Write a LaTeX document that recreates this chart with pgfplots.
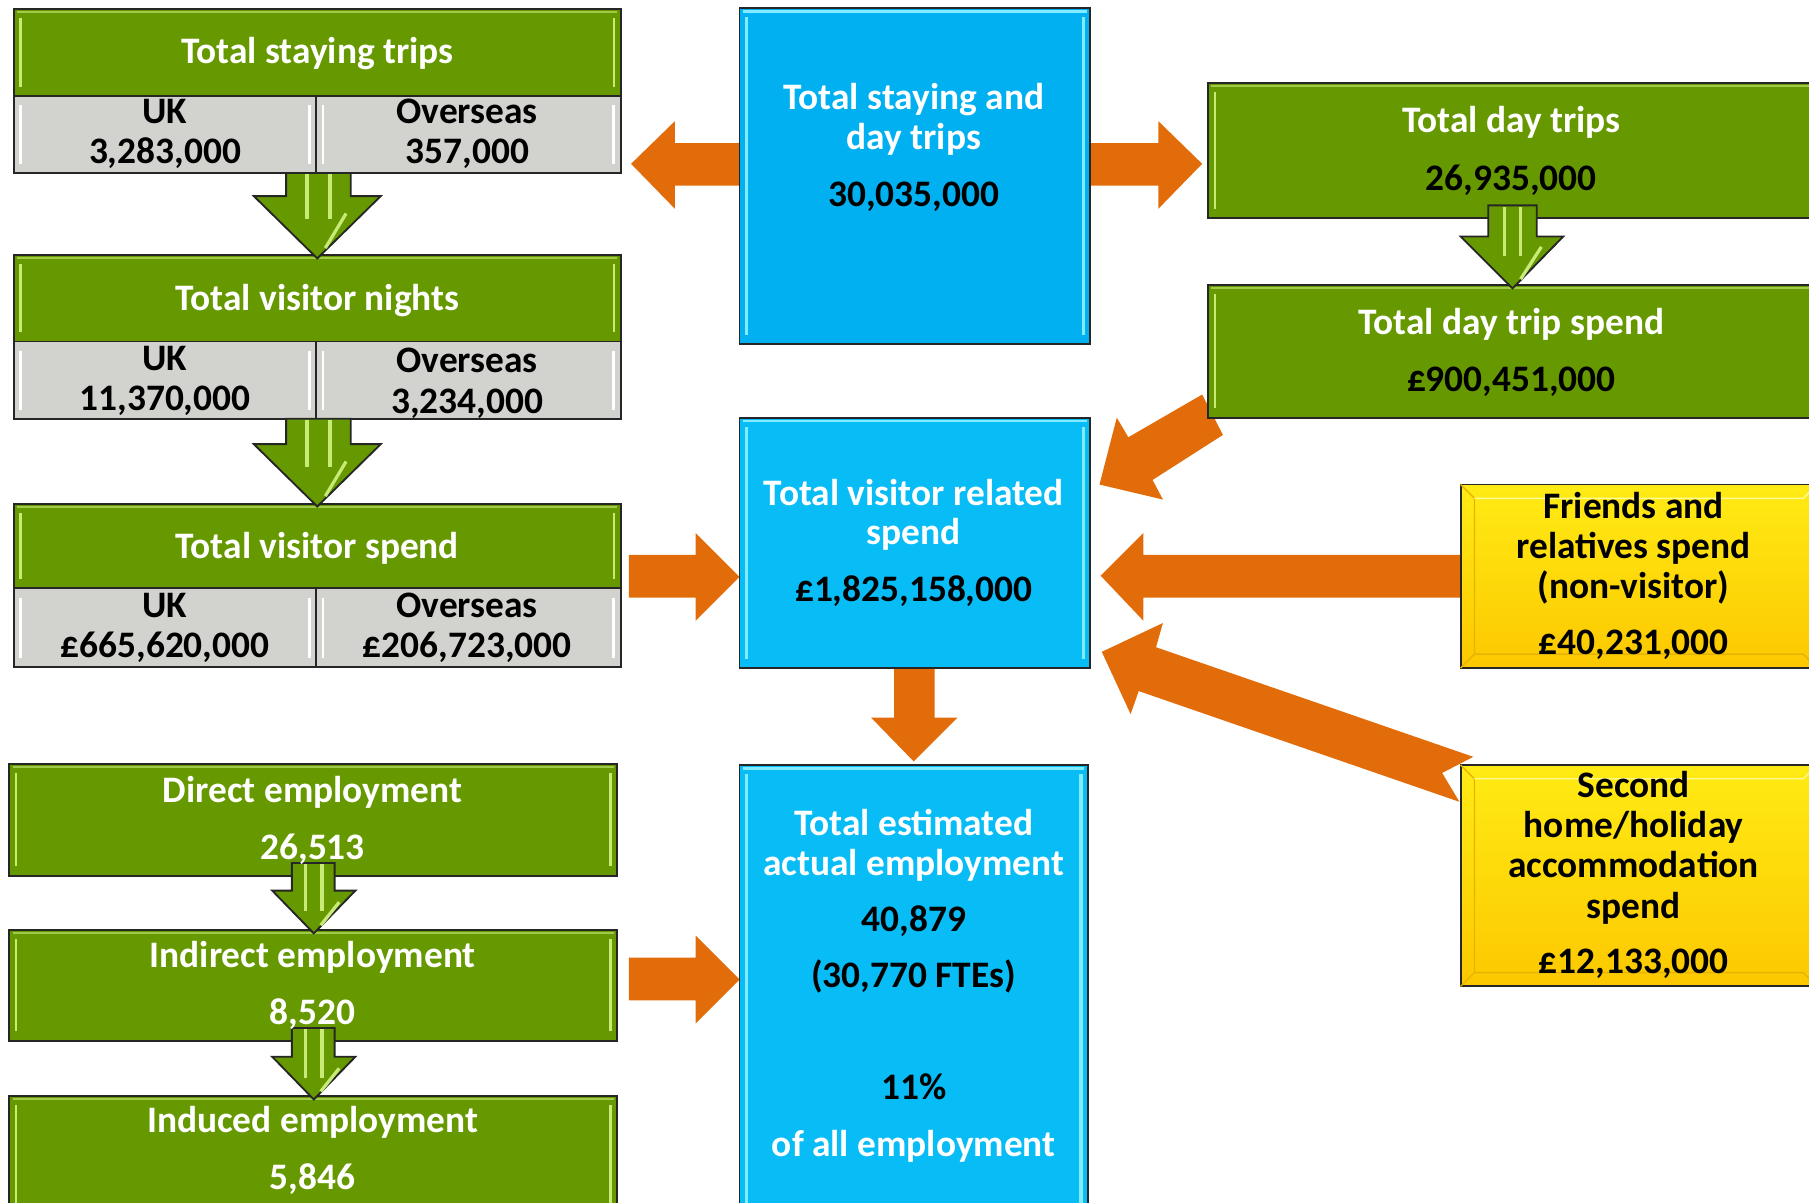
\documentclass[border=0pt]{standalone}
\usepackage{pgfplots}
\pgfplotsset{compat=1.18}
\usepackage{fontspec}
\setmainfont{Carlito}
\definecolor{gM}{RGB}{102,153,0}
\definecolor{gHL}{RGB}{200,235,120}
\definecolor{grayM}{RGB}{210,210,206}
\definecolor{b1}{RGB}{0,176,240}
\definecolor{b2}{RGB}{8,188,246}
\definecolor{bHL}{RGB}{130,235,255}
\definecolor{yT}{RGB}{255,235,20}
\definecolor{yB}{RGB}{252,200,0}
\definecolor{yD}{RGB}{230,180,0}
\definecolor{yL}{RGB}{255,250,150}
\definecolor{orng}{RGB}{227,108,10}
\newcommand{\fsz}{\fontsize{16.2}{18}\selectfont\bfseries}
% text line: x, baseline y, colour, text
\newcommand{\tl}[4]{\node[anchor=base,text=#3,font=\fsz,inner sep=0pt] at (axis cs:#1,#2) {#4};}
% vertical line: x, y1, y2, colour, width
\newcommand{\vl}[5]{\draw[#4,line width=#5] (axis cs:#1,#2) -- (axis cs:#1,#3);}
% horizontal line: y, x1, x2, colour, width
\newcommand{\hl}[5]{\draw[#4,line width=#5] (axis cs:#2,#1) -- (axis cs:#3,#1);}
\begin{document}
\begin{tikzpicture}
\begin{axis}[
  scale only axis, width=784pt, height=521pt,
  xmin=0, xmax=1568, ymin=0, ymax=1042, y dir=reverse,
  hide axis, no markers, clip=true]

% ---------- orange arrows (behind boxes)
\addplot[fill=orng,draw=none] coordinates {(641,124)(585,124)(585,105)(547,142)(585,181)(585,161)(641,161)} -- cycle;
\addplot[fill=orng,draw=none] coordinates {(945,124)(1004,124)(1004,105)(1042,142)(1004,181)(1004,161)(945,161)} -- cycle;
\addplot[fill=orng,draw=none] coordinates {(545,481)(603,481)(603,462)(641,500)(603,538)(603,518)(545,518)} -- cycle;
\addplot[fill=orng,draw=none] coordinates {(545,830)(603,830)(603,811)(641,849)(603,887)(603,867)(545,867)} -- cycle;
\addplot[fill=orng,draw=none] coordinates {(775,577)(810,577)(810,622)(830,622)(792,660)(755,622)(775,622)} -- cycle;
\addplot[fill=orng,draw=none] coordinates {(1268,481)(991,481)(991,462)(954,499)(991,538)(991,518)(1268,518)} -- cycle;
\addplot[fill=orng,draw=none] coordinates {(1042,342)(978,379)(968,362)(953,420)(1008,433)(999,416)(1060,377)} -- cycle;
\addplot[fill=orng,draw=none] coordinates {(1277,656)(1002,561)(1008,540)(955,565)(980,619)(987,599)(1265,695)(1250,670)} -- cycle;

% ---------- left column boxes
\addplot[fill=gM,draw=black!85,line width=0.8pt] coordinates {(12,8)(538,8)(538,83)(12,83)} -- cycle;
\addplot[fill=grayM,draw=black!85,line width=0.8pt] coordinates {(12,83)(274,83)(274,150)(12,150)} -- cycle;
\addplot[fill=grayM,draw=black!85,line width=0.8pt] coordinates {(274,83)(538,83)(538,150)(274,150)} -- cycle;

\addplot[fill=gM,draw=black!85,line width=0.8pt] coordinates {(12,221)(538,221)(538,296)(12,296)} -- cycle;
\addplot[fill=grayM,draw=black!85,line width=0.8pt] coordinates {(12,296)(274,296)(274,363)(12,363)} -- cycle;
\addplot[fill=grayM,draw=black!85,line width=0.8pt] coordinates {(274,296)(538,296)(538,363)(274,363)} -- cycle;

\addplot[fill=gM,draw=black!85,line width=0.8pt] coordinates {(12,437)(538,437)(538,510)(12,510)} -- cycle;
\addplot[fill=grayM,draw=black!85,line width=0.8pt] coordinates {(12,510)(274,510)(274,578)(12,578)} -- cycle;
\addplot[fill=grayM,draw=black!85,line width=0.8pt] coordinates {(274,510)(538,510)(538,578)(274,578)} -- cycle;

\addplot[fill=gM,draw=black!85,line width=0.8pt] coordinates {(8,662)(535,662)(535,759)(8,759)} -- cycle;
\addplot[fill=gM,draw=black!85,line width=0.8pt] coordinates {(8,806)(535,806)(535,902)(8,902)} -- cycle;
\addplot[fill=gM,draw=black!85,line width=0.8pt] coordinates {(8,950)(535,950)(535,1060)(8,1060)} -- cycle;

% ---------- middle column boxes
\addplot[fill=b1,draw=black!85,line width=0.8pt] coordinates {(641,7)(945,7)(945,298)(641,298)} -- cycle;
\addplot[fill=b2,draw=black!85,line width=0.8pt] coordinates {(641,362)(945,362)(945,579)(641,579)} -- cycle;
\addplot[fill=b2,draw=black!85,line width=0.8pt] coordinates {(641,663)(943,663)(943,1060)(641,1060)} -- cycle;

% ---------- right column boxes
\addplot[fill=gM,draw=black!85,line width=0.8pt] coordinates {(1047,72)(1580,72)(1580,189)(1047,189)} -- cycle;
\addplot[fill=gM,draw=black!85,line width=0.8pt] coordinates {(1047,247)(1580,247)(1580,362)(1047,362)} -- cycle;
\addplot[top color=yT,bottom color=yB,draw=black!85,line width=0.8pt] coordinates {(1266,420)(1580,420)(1580,579)(1266,579)} -- cycle;
\addplot[top color=yT,bottom color=yB,draw=black!85,line width=0.8pt] coordinates {(1266,663)(1580,663)(1580,855)(1266,855)} -- cycle;

% ---------- bevel highlights: green boxes
\vl{18}{16}{75}{gHL}{1.1pt}   \vl{532}{16}{75}{gHL}{1.1pt}   \hl{10.5}{15}{535}{gHL!60!gM}{0.9pt}
\vl{18}{229}{288}{gHL}{1.1pt} \vl{532}{229}{288}{gHL}{1.1pt} \hl{223.5}{15}{535}{gHL!60!gM}{0.9pt}
\vl{18}{445}{502}{gHL}{1.1pt} \vl{532}{445}{502}{gHL}{1.1pt} \hl{439.5}{15}{535}{gHL!60!gM}{0.9pt}
\vl{14}{670}{751}{gHL}{1.1pt} \vl{529}{670}{751}{gHL}{1.1pt} \hl{664.5}{11}{532}{gHL!60!gM}{0.9pt}
\vl{14}{814}{894}{gHL}{1.1pt} \vl{529}{814}{894}{gHL}{1.1pt} \hl{808.5}{11}{532}{gHL!60!gM}{0.9pt}
\vl{14}{958}{1052}{gHL}{1.1pt} \vl{529}{958}{1052}{gHL}{1.1pt} \hl{952.5}{11}{532}{gHL!60!gM}{0.9pt}
\vl{1053}{80}{181}{gHL}{1.1pt} \hl{74.5}{1050}{1572}{gHL!60!gM}{0.9pt}
\vl{1053}{255}{354}{gHL}{1.1pt} \hl{249.5}{1050}{1572}{gHL!60!gM}{0.9pt}
% gray boxes
\vl{18}{91}{142}{white}{1.2pt}  \vl{268}{91}{142}{white}{1.2pt}  \vl{280}{91}{142}{white}{1.2pt}  \vl{532}{91}{142}{white}{1.2pt}
\vl{18}{304}{355}{white}{1.2pt} \vl{268}{304}{355}{white}{1.2pt} \vl{280}{304}{355}{white}{1.2pt} \vl{532}{304}{355}{white}{1.2pt}
\vl{18}{518}{570}{white}{1.2pt} \vl{268}{518}{570}{white}{1.2pt} \vl{280}{518}{570}{white}{1.2pt} \vl{532}{518}{570}{white}{1.2pt}
% blue boxes
\vl{647}{15}{290}{bHL}{1.5pt}  \vl{939}{15}{290}{bHL}{1.5pt}  \hl{10}{644}{942}{bHL}{1.2pt}
\vl{647}{370}{571}{bHL}{1.5pt} \vl{939}{370}{571}{bHL}{1.5pt} \hl{365}{644}{942}{bHL}{1.2pt}
\vl{647}{671}{1052}{bHL}{1.5pt} \vl{937}{671}{1052}{bHL}{1.5pt} \hl{666}{644}{940}{bHL}{1.2pt}
% yellow boxes
\draw[yD,line width=0.6pt] (axis cs:1266,420) -- (axis cs:1278,432) -- (axis cs:1278,567) -- (axis cs:1266,579);
\draw[yD,line width=0.6pt] (axis cs:1278,567) -- (axis cs:1563,567) -- (axis cs:1575,579);
\draw[yL,line width=0.6pt] (axis cs:1278,432) -- (axis cs:1563,432) -- (axis cs:1575,420);
\draw[yD,line width=0.6pt] (axis cs:1266,663) -- (axis cs:1278,675) -- (axis cs:1278,843) -- (axis cs:1266,855);
\draw[yD,line width=0.6pt] (axis cs:1278,843) -- (axis cs:1563,843) -- (axis cs:1575,855);
\draw[yL,line width=0.6pt] (axis cs:1278,675) -- (axis cs:1563,675) -- (axis cs:1575,663);

% ---------- green arrows (on top of boxes)
\addplot[fill=gM,draw=black!85,line width=0.8pt] coordinates {(248,150)(304,150)(304,170)(330,170)(275,224)(220,170)(248,170)} -- cycle;
\addplot[fill=gM,draw=black!85,line width=0.8pt] coordinates {(248,363)(304,363)(304,385)(330,385)(275,439)(220,385)(248,385)} -- cycle;
\addplot[fill=gM,draw=black!85,line width=0.8pt] coordinates {(253,748)(290,748)(290,772)(308,772)(272,809)(236,772)(253,772)} -- cycle;
\addplot[fill=gM,draw=black!85,line width=0.8pt] coordinates {(253,891)(290,891)(290,916)(308,916)(272,953)(236,916)(253,916)} -- cycle;
\addplot[fill=gM,draw=black!85,line width=0.8pt] coordinates {(1290,178)(1332,178)(1332,205)(1355,205)(1311,250)(1266,205)(1290,205)} -- cycle;
\vl{266}{151}{190}{gHL}{1.4pt} \vl{286}{151}{190}{gHL}{1.4pt}
\vl{266}{364}{405}{gHL}{1.4pt} \vl{286}{364}{405}{gHL}{1.4pt}
\vl{265}{749}{790}{gHL}{1.4pt} \vl{279}{749}{790}{gHL}{1.4pt}
\vl{265}{892}{934}{gHL}{1.4pt} \vl{279}{892}{934}{gHL}{1.4pt}
\vl{1304}{179}{222}{gHL}{1.4pt} \vl{1318}{179}{222}{gHL}{1.4pt}
\draw[gHL,line width=1.4pt] (axis cs:300,185) -- (axis cs:282,215);
\draw[gHL,line width=1.4pt] (axis cs:300,400) -- (axis cs:282,430);
\draw[gHL,line width=1.4pt] (axis cs:294,782) -- (axis cs:278,802);
\draw[gHL,line width=1.4pt] (axis cs:294,926) -- (axis cs:278,946);
\draw[gHL,line width=1.4pt] (axis cs:1336,214) -- (axis cs:1318,242);

% ---------- text (baseline = visual centre + 10)
\tl{275}{55}{white}{Total staying trips}
\tl{143}{107}{black}{UK}
\tl{143}{142}{black}{3,283,000}
\tl{405}{107}{black}{Overseas}
\tl{405}{142}{black}{357,000}
\tl{275}{269}{white}{Total visitor nights}
\tl{143}{321}{black}{UK}
\tl{143}{356}{black}{11,370,000}
\tl{405}{323}{black}{Overseas}
\tl{405}{358}{black}{3,234,000}
\tl{275}{484}{white}{Total visitor spend}
\tl{143}{535}{black}{UK}
\tl{143}{570}{black}{£665,620,000}
\tl{405}{535}{black}{Overseas}
\tl{405}{570}{black}{£206,723,000}
\tl{271}{696}{white}{Direct employment}
\tl{271}{745}{white}{26,513}
\tl{271}{839}{white}{Indirect employment}
\tl{271}{888}{white}{8,520}
\tl{271}{982}{white}{Induced employment}
\tl{271}{1031}{white}{5,846}

\tl{792}{95}{white}{Total staying and}
\tl{792}{130}{white}{day trips}
\tl{792}{179}{black}{30,035,000}
\tl{792}{438}{white}{Total visitor related}
\tl{792}{472}{white}{spend}
\tl{792}{521}{black}{£1,825,158,000}
\tl{792}{724}{white}{Total estimated}
\tl{792}{759}{white}{actual employment}
\tl{792}{807}{black}{40,879}
\tl{792}{856}{black}{(30,770 FTEs)}
\tl{792}{953}{black}{11\%}
\tl{792}{1002}{white}{of all employment}

\tl{1310}{115}{white}{Total day trips}
\tl{1310}{165}{black}{26,935,000}
\tl{1310}{290}{white}{Total day trip spend}
\tl{1310}{339}{black}{£900,451,000}
\tl{1416}{449}{black}{Friends and}
\tl{1416}{484}{black}{relatives spend}
\tl{1416}{519}{black}{(non-visitor)}
\tl{1416}{567}{black}{£40,231,000}
\tl{1416}{691}{black}{Second}
\tl{1416}{726}{black}{home/holiday}
\tl{1416}{761}{black}{accommodation}
\tl{1416}{796}{black}{spend}
\tl{1416}{844}{black}{£12,133,000}
\end{axis}
\pgfresetboundingbox
\useasboundingbox (current axis.south west) rectangle (current axis.north east);
\end{tikzpicture}
\end{document}
